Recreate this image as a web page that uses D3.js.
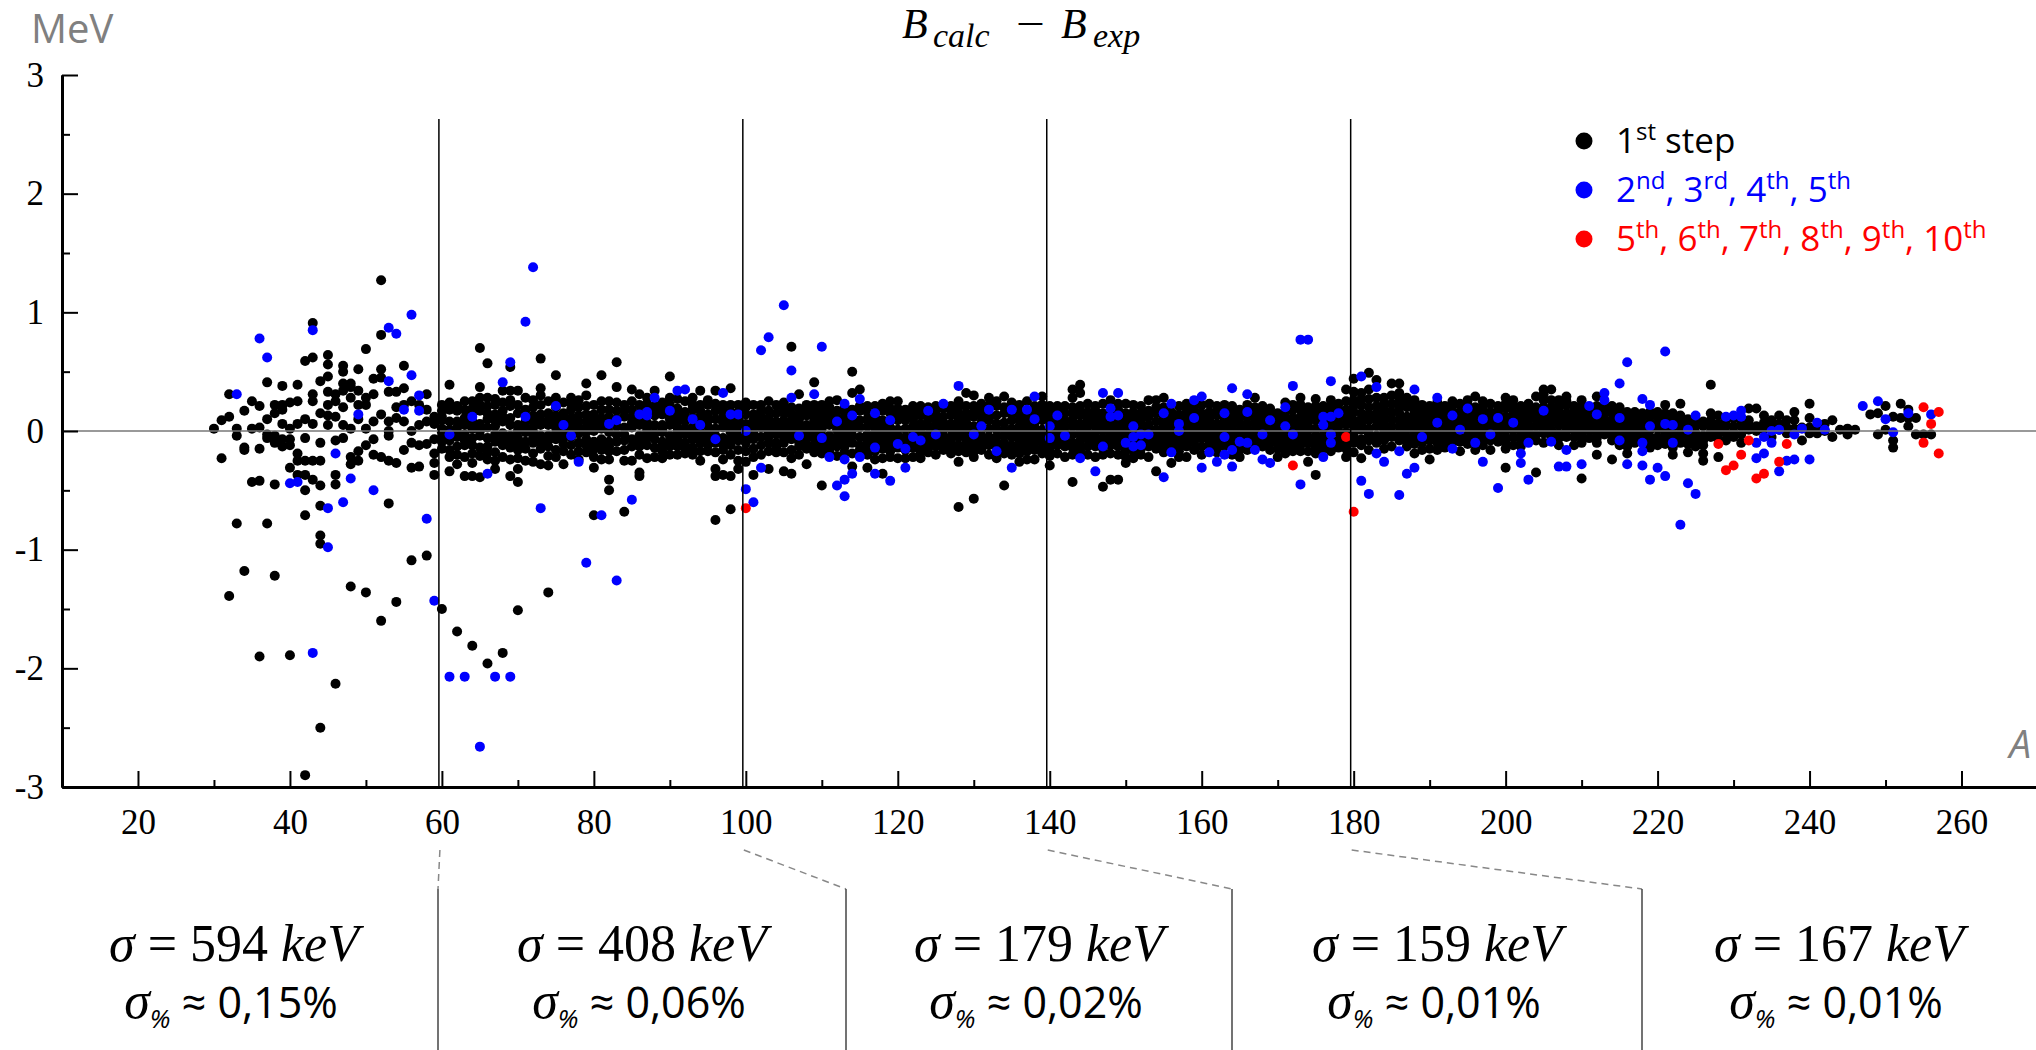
<!DOCTYPE html>
<html>
<head>
<meta charset="utf-8">
<script src="https://cdn.jsdelivr.net/npm/d3@7"></script>
<style>
  body { margin: 0; background: #fff; }
  .axis text { font-family: 'Liberation Serif', 'Times New Roman', serif; font-size: 35px; fill: #000; }
</style>
</head>
<body>
<svg id="chart" width="2036" height="1050"></svg>
<script>

// B_calc - B_exp (MeV) per mass number A, 1st step: [A, dev, dev, ...]
const firstStep = [
  [30, .02], [31, -.23, .09], [32, .31, .12, -1.39], [33, .02, -.04, -.78],
  [34, .17, -.14, -.16, -1.18], [35, .25, .02, -.43], [36, .21, .03, -.15, -.42, -1.9],
  [37, .41, .10, -.03, -.06, -.78], [38, .22, .15, -.04, -.10, -.45, -1.22],
  [39, .38, .22, .18, .06, -.07, -.13], [40, .24, .02, -.07, -.12, -.31, -1.89],
  [41, .39, .25, .06, -.19, -.25, -.37], [42, .59, .10, -.06, -.25, -.37, -.50, -.71, -2.9],
  [43, .91, .62, .31, .25, .06, -.25, -.41], [44, .42, .15, -.10, -.25, -.46, -.63, -.88, -.95, -2.5],
  [45, .64, .56, .46, .33, .22, .13, .05], [46, .31, .25, .12, -.08, -.37, -.45, -2.13],
  [47, .55, .50, .40, .34, .20, .05, -.06], [48, .40, .37, .28, .02, -.22, -.28, -1.31],
  [49, .52, .34, .22, .10, -.17, -.25], [50, .69, .28, .22, .02, -.12, -1.36],
  [51, .44, .31, .08, -.07, -.20], [52, 1.27, .81, .52, .45, .14, -.22, -1.6],
  [53, .33, .08, .0, -.04, -.25, -.61], [54, .33, .20, .11, -.27, -1.44],
  [55, .55, .36, .22, .08, -.16], [56, .25, .0, -.10, -.31, -1.09], [57, .22, .05, -.12, -.30],
  [58, .31, .18, .08, -.11, -1.05], [59, .12, .06, -.07, -.19, -.27, -.37],
  [60, .22, .17, .12, .09, .02, -.01, -.05, -.09, -.15, -1.5],
  [61, .39, .24, .18, .08, .01, -.04, -.08, -.16, -.22, -.34],
  [62, .21, .17, .08, .03, -.01, -.05, -.13, -.20, -.28, -1.69],
  [63, .25, .18, .11, .05, -.03, -.08, -.12, -.22, -.38],
  [64, .25, .19, .15, .08, .02, -.06, -.12, -.19, -.27, -.38, -1.81],
  [65, .70, .37, .28, .22, .17, .06, .0, -.04, -.14, -.21, -.39],
  [66, .57, .28, .21, .15, .10, .03, -.06, -.13, -.18, -.24, -1.96],
  [67, .27, .22, .14, .09, .04, -.03, -.09, -.18, -.25, -.32],
  [68, .34, .24, .17, .12, .08, -.02, -.07, -.12, -.22, -1.87],
  [69, .54, .34, .26, .21, .11, .05, -.04, -.10, -.14, -.24, -.38],
  [70, .34, .22, .15, .05, .0, -.06, -.11, -.16, -.23, -.32, -.43, -1.51],
  [71, .28, .18, .13, .08, .03, -.01, -.09, -.15, -.25],
  [72, .26, .20, .13, .08, .03, -.01, -.06, -.10, -.19, -.26],
  [73, .61, .36, .30, .22, .14, .09, .05, -.04, -.10, -.15, -.28],
  [74, .25, .15, .09, .05, -.04, -.08, -.13, -.21, -.29, -1.36],
  [75, .47, .28, .20, .13, .08, .03, -.02, -.07, -.16, -.22],
  [76, .24, .15, .10, .06, -.01, -.06, -.11, -.17, -.28],
  [77, .28, .23, .18, .11, .06, .02, -.05, -.12, -.20],
  [78, .26, .20, .13, .08, .03, -.02, -.10, -.17, -.24],
  [79, .40, .30, .21, .14, .08, .03, -.01, -.07, -.12, -.18],
  [80, .22, .14, .09, .05, .0, -.09, -.15, -.22, -.31, -.71],
  [81, .47, .25, .18, .11, .06, .02, -.07, -.11, -.16, -.24],
  [82, .25, .18, .12, .05, -.01, -.09, -.13, -.17, -.24, -.41, -.50],
  [83, .58, .37, .24, .17, .10, .04, -.03, -.09, -.17],
  [84, .22, .17, .12, .03, -.03, -.08, -.16, -.25, -.68],
  [85, .35, .25, .18, .12, .07, .03, -.07, -.13, -.25],
  [86, .31, .22, .15, .09, .05, -.04, -.09, -.13, -.20, -.35, -.38],
  [87, .28, .23, .19, .07, .02, -.01, -.06, -.12, -.23],
  [88, .34, .21, .17, .13, .05, -.02, -.07, -.14, -.22],
  [89, .24, .18, .14, .05, .01, -.01, -.09, -.13, -.17, -.23],
  [90, .46, .28, .22, .19, .10, .05, -.04, -.09, -.13, -.20],
  [91, .27, .19, .13, .08, .03, -.01, -.07, -.13, -.20],
  [92, .25, .16, .12, .08, .02, -.03, -.10, -.15, -.19],
  [93, .28, .22, .18, .11, .03, -.02, -.07, -.14, -.20],
  [94, .34, .22, .17, .12, .06, -.01, -.05, -.10, -.17, -.25],
  [95, .26, .22, .14, .09, .04, -.02, -.07, -.12, -.17],
  [96, .34, .23, .17, .10, .02, -.04, -.10, -.18, -.32, -.38, -.75],
  [97, .22, .17, .12, .07, .03, -.06, -.11, -.16, -.24, -.37],
  [98, .36, .22, .16, .08, .03, -.01, -.07, -.12, -.20, -.38, -.66],
  [99, .22, .16, .10, .06, .02, -.04, -.08, -.16, -.25, -.32],
  [100, .24, .20, .14, .06, .01, -.05, -.10, -.17, -.26],
  [101, .22, .14, .09, .04, -.02, -.07, -.15, -.22, -.37],
  [102, .22, .17, .12, .07, .03, -.05, -.12, -.20],
  [103, .25, .17, .11, .07, .02, -.01, -.05, -.10, -.17, -.32],
  [104, .22, .15, .08, .03, -.03, -.10, -.14, -.18],
  [105, .24, .19, .15, .09, .05, -.01, -.05, -.10, -.18, -.34],
  [106, .71, .20, .14, .08, .03, -.02, -.07, -.16, -.23, -.36],
  [107, .31, .19, .14, .10, .06, .01, -.04, -.09, -.13, -.20],
  [108, .22, .17, .13, .05, .0, -.06, -.11, -.15, -.28],
  [109, .41, .22, .18, .14, .09, .04, -.01, -.06, -.12, -.18],
  [110, .22, .16, .11, .06, .02, -.04, -.10, -.14, -.19, -.46],
  [111, .25, .20, .15, .10, .05, -.04, -.10, -.14, -.18],
  [112, .26, .17, .11, .06, .01, -.05, -.09, -.13, -.21],
  [113, .20, .16, .12, .08, .04, -.02, -.07, -.13, -.18],
  [114, .50, .32, .18, .11, .06, .01, -.04, -.10, -.19, -.30],
  [115, .35, .21, .17, .09, .03, -.05, -.12, -.16],
  [116, .21, .16, .10, .04, -.03, -.07, -.10, -.15, -.20, -.31],
  [117, .21, .12, .08, .03, -.02, -.06, -.10, -.17, -.24],
  [118, .23, .17, .09, .05, .01, -.05, -.10, -.15, -.23, -.36],
  [119, .25, .19, .15, .09, .03, -.02, -.07, -.12, -.17, -.22],
  [120, .25, .19, .14, .09, .01, -.04, -.08, -.14, -.23],
  [121, .18, .13, .09, .02, -.05, -.10, -.16, -.23],
  [122, .21, .15, .10, .04, .0, -.04, -.08, -.14, -.22],
  [123, .21, .17, .13, .06, .02, -.02, -.08, -.13, -.18, -.23],
  [124, .20, .14, .10, .04, -.03, -.07, -.10, -.14, -.18],
  [125, .21, .15, .09, .05, .01, -.03, -.07, -.13, -.20],
  [126, .19, .12, .07, .01, -.04, -.10, -.16],
  [127, .21, .17, .13, .06, .02, -.05, -.09, -.13, -.19],
  [128, .25, .20, .15, .09, .03, -.01, -.05, -.12, -.17, -.26, -.64],
  [129, .32, .21, .15, .11, .07, .01, -.05, -.10, -.14, -.18],
  [130, .30, .21, .16, .12, .04, -.01, -.07, -.13, -.17, -.22, -.57],
  [131, .23, .18, .12, .07, .01, -.04, -.08, -.12, -.16],
  [132, .28, .21, .14, .09, .02, -.05, -.09, -.12, -.20],
  [133, .25, .21, .13, .06, .01, -.05, -.10, -.14, -.23],
  [134, .29, .20, .15, .07, .01, -.04, -.10, -.14, -.19, -.46],
  [135, .24, .14, .09, .02, -.02, -.05, -.12, -.16, -.20],
  [136, .22, .15, .09, .04, -.02, -.06, -.10, -.14, -.19, -.26],
  [137, .25, .13, .10, .06, .01, -.04, -.08, -.12, -.17, -.24],
  [138, .21, .15, .07, .03, -.01, -.05, -.10, -.16, -.24],
  [139, .29, .22, .17, .13, .09, .01, -.05, -.10, -.15, -.19],
  [140, .21, .16, .12, .07, .02, -.03, -.09, -.12, -.16, -.21, -.29],
  [141, .21, .17, .08, .04, .01, -.04, -.08, -.12, -.19],
  [142, .21, .15, .09, .04, -.01, -.06, -.09, -.13, -.22],
  [143, .35, .28, .20, .15, .09, .04, -.03, -.10, -.14, -.20, -.43],
  [144, .39, .32, .21, .17, .13, .06, .01, -.03, -.08, -.12, -.17],
  [145, .23, .16, .13, .09, .04, -.02, -.07, -.13, -.20],
  [146, .21, .17, .12, .08, .04, -.01, -.05, -.09, -.13, -.22],
  [147, .23, .15, .10, .05, .01, -.06, -.10, -.15, -.20, -.47],
  [148, .26, .15, .08, .04, -.02, -.08, -.12, -.19, -.41],
  [149, .23, .18, .08, .04, .01, -.03, -.07, -.13, -.20, -.41],
  [150, .23, .15, .10, .06, .01, -.04, -.09, -.16, -.22, -.27],
  [151, .22, .16, .12, .07, .01, -.09, -.17, -.23],
  [152, .21, .15, .09, .03, -.06, -.09, -.15, -.20],
  [153, .26, .17, .12, .05, .01, -.07, -.10, -.13, -.22],
  [154, .26, .20, .15, .08, .01, -.03, -.07, -.11, -.15, -.34],
  [155, .28, .20, .12, .08, .04, -.02, -.06, -.10, -.14, -.18],
  [156, .16, .13, .09, .05, .01, -.05, -.09, -.12, -.16, -.27],
  [157, .21, .14, .10, .03, -.03, -.06, -.10, -.13, -.17, -.22],
  [158, .23, .19, .15, .09, .05, .01, -.04, -.08, -.13, -.22],
  [159, .22, .18, .14, .05, .01, -.02, -.06, -.09, -.16],
  [160, .22, .15, .11, .07, .01, -.03, -.06, -.13, -.20],
  [161, .23, .16, .12, .09, .03, -.01, -.05, -.09, -.12],
  [162, .21, .17, .13, .06, .02, -.03, -.07, -.10, -.14, -.18],
  [163, .22, .17, .12, .09, .04, .01, -.09, -.13],
  [164, .21, .16, .12, .08, .04, -.01, -.05, -.08, -.11, -.20],
  [165, .18, .15, .11, .06, .0, -.04, -.07, -.12, -.16, -.22],
  [166, .22, .12, .06, .02, -.03, -.06, -.13, -.16],
  [167, .28, .20, .15, .11, .07, .01, -.05, -.09, -.12],
  [168, .21, .17, .13, .09, .05, .02, -.06, -.10, -.13],
  [169, .19, .15, .12, .05, .02, -.02, -.06, -.10, -.16],
  [170, .15, .11, .08, .04, -.01, -.04, -.08, -.11, -.15, -.22],
  [171, .24, .16, .12, .08, .01, -.05, -.09, -.13, -.19],
  [172, .22, .18, .11, .06, .01, -.06, -.09, -.13, -.17],
  [173, .28, .22, .18, .12, .07, .03, -.03, -.08, -.12, -.17],
  [174, .20, .15, .12, .08, .04, .01, -.05, -.10, -.17, -.26],
  [175, .27, .21, .17, .13, .09, .02, -.04, -.09, -.13, -.19, -.37],
  [176, .21, .18, .14, .09, .01, -.04, -.08, -.11, -.15],
  [177, .26, .21, .16, .08, .02, -.06, -.13, -.17],
  [178, .23, .18, .11, .07, .04, -.01, -.08, -.14],
  [179, .35, .25, .18, .12, .06, -.01, -.06, -.10, -.15, -.22],
  [180, .44, .33, .26, .21, .16, .09, .04, -.02, -.06, -.10, -.18],
  [181, .32, .27, .22, .15, .10, .05, .01, -.07, -.12, -.23],
  [182, .49, .35, .27, .20, .14, .09, .02, -.03, -.08, -.16],
  [183, .43, .28, .21, .15, .10, .04, -.04, -.10],
  [184, .28, .23, .19, .14, .09, .05, .01, -.03, -.08, -.15],
  [185, .40, .30, .23, .16, .10, .04, -.01, -.05, -.13],
  [186, .40, .32, .26, .20, .15, .09, .04, -.02, -.08],
  [187, .28, .24, .20, .12, .07, .02, -.05, -.09, -.13],
  [188, .26, .21, .16, .11, .06, .01, -.03, -.07, -.11, -.19],
  [189, .22, .18, .15, .09, .04, .0, -.03, -.10, -.16],
  [190, .21, .17, .13, .09, .06, .01, -.04, -.08, -.15, -.24],
  [191, .24, .20, .15, .10, .03, -.01, -.05, -.10, -.16],
  [192, .21, .16, .12, .08, .04, -.02, -.08, -.14],
  [193, .25, .21, .16, .13, .09, .05, .01, -.02, -.06, -.10],
  [194, .23, .16, .12, .09, .05, .02, -.05, -.09, -.17],
  [195, .26, .22, .15, .09, .04, .0, -.05, -.11],
  [196, .29, .20, .16, .12, .08, .04, -.01, -.05, -.10, -.16],
  [197, .25, .21, .17, .14, .07, .03, -.03, -.08, -.12],
  [198, .23, .16, .12, .09, .06, .02, -.03, -.08, -.16],
  [199, .21, .16, .12, .08, .05, .01, -.02, -.06, -.09],
  [200, .28, .23, .19, .12, .08, .04, .0, -.06, -.10, -.15, -.31],
  [201, .26, .21, .15, .09, .05, .01, -.05, -.12],
  [202, .21, .17, .13, .08, .04, .0, -.04, -.08, -.13],
  [203, .23, .20, .16, .12, .09, .05, .01, -.03, -.06],
  [204, .29, .20, .15, .10, .04, -.03, -.08, -.35],
  [205, .35, .31, .26, .20, .15, .11, .06, .02, -.02, -.10],
  [206, .35, .26, .20, .16, .12, .07, .01, -.05],
  [207, .26, .22, .19, .15, .12, .08, .05, -.02, -.06, -.12],
  [208, .29, .25, .22, .15, .10, .04, .0, -.05],
  [209, .21, .18, .15, .11, .09, .05, .01, -.05, -.12],
  [210, .26, .21, .17, .13, .09, .04, -.02, -.06, -.10, -.40],
  [211, .20, .16, .12, .08, .04, .01, -.06],
  [212, .29, .21, .15, .08, .04, -.02, -.06, -.10, -.20],
  [213, .21, .18, .15, .10, .04, .0, -.03],
  [214, .21, .15, .09, .05, .01, -.03, -.08, -.24],
  [215, .20, .17, .10, .04, -.02, -.06, -.12],
  [216, .16, .12, .06, .02, -.02, -.07, -.13, -.19],
  [217, .16, .12, .08, .04, .0, -.05, -.10],
  [218, .15, .12, .06, .02, -.03, -.07],
  [219, .16, .12, .07, .01, -.05, -.09, -.14],
  [220, .16, .12, .06, .02, -.05, -.09, -.12],
  [221, .22, .15, .11, .03, -.01, -.05, -.11],
  [222, .15, .09, .03, -.03, -.08, -.14, -.20],
  [223, .23, .13, .08, .04, -.02, -.06, -.10],
  [224, .10, .06, .02, -.05, -.11, -.18],
  [225, .09, .04, -.02, -.05, -.08, -.13],
  [226, .08, .04, -.04, -.08, -.12, -.19, -.25],
  [227, .39, .15, .09, .04, -.01, -.05],
  [228, .13, .06, .02, -.02, -.07, -.22],
  [229, .09, .04, -.02, -.08], [230, .11, .04, -.01, -.05], [231, .08, .04, -.03, -.10],
  [232, .19, .09, .05, .01], [233, .19, .04, .0], [234, .13, .07, .02], [235, .09, .03, -.05],
  [236, .13, .06, .01], [237, .09, .03, -.02], [238, .16, .09, .02], [239, .03, -.08],
  [240, .23, .11, .03, -.02], [241, .03, -.02], [242, .06, .0], [243, .09, -.05],
  [244, .01], [245, .02, -.03], [246, .01], [248, .14], [249, .15, -.03], [250, .21, .01],
  [251, .12, -.08, -.14], [252, .23, .11], [253, .18, .11, .04], [254, .11, -.03],
  [255, -.03], [256, -.03]
];

// 2nd-5th steps: [A, dev]
const steps2to5 = [
  [33, .31], [36, .78], [37, .62], [40, -.44], [41, -.43], [43, .85], [43, -1.87], [45, -.65],
  [45, -.98], [46, -.19], [47, -.6], [48, -.4], [49, .14], [51, -.5], [53, .87], [53, .42],
  [54, .82], [55, .18], [56, .98], [56, .47], [57, .3], [57, .17], [58, -.74], [59, -1.43],
  [61, -.03], [61, -2.07], [63, -2.07], [64, .12], [65, -2.66], [66, -.36], [67, -2.07],
  [68, .41], [69, .58], [69, -2.07], [71, .92], [71, .12], [72, 1.38], [73, -.65], [75, .21],
  [76, .05], [77, -.04], [78, -.26], [79, -1.11], [81, -.71], [82, .06], [83, .09], [83, -1.26],
  [85, -.58], [86, .14], [87, .16], [87, .13], [88, .28], [90, .17], [91, .34], [92, .35],
  [93, .1], [94, .05], [96, -.07], [97, .32], [98, .14], [99, .14], [100, 0], [100, -.49],
  [101, -.6], [102, .68], [102, -.31], [103, .79], [105, 1.06], [106, .51], [106, .28],
  [107, -.04], [109, .31], [110, .71], [110, -.06], [111, -.22], [112, .08], [112, -.46],
  [113, .23], [113, -.24], [113, -.41], [113, -.55], [114, .13], [114, -.36], [115, .27],
  [115, -.22], [117, .15], [117, -.14], [117, -.36], [119, .09], [119, -.42], [120, -.11],
  [121, -.15], [121, -.31], [122, -.05], [123, -.08], [124, .17], [125, -.03], [126, .23],
  [128, .38], [130, -.03], [131, .04], [132, .18], [133, -.17], [135, .18], [135, -.31],
  [137, .18], [138, .29], [138, .1], [140, .04], [140, -.06], [141, .13], [142, -.04],
  [144, -.23], [146, -.34], [147, .32], [147, -.13], [148, .19], [148, .12], [149, .32],
  [149, .13], [150, -.1], [151, .04], [151, -.05], [151, -.13], [152, -.03], [152, -.12],
  [153, -.03], [155, .15], [155, -.39], [156, .23], [156, -.18], [157, .06], [157, 0],
  [159, .26], [159, .11], [160, .29], [160, -.31], [161, -.18], [162, -.26], [163, .15],
  [163, -.05], [163, -.2], [164, .36], [164, -.16], [164, -.3], [165, -.09], [166, .31],
  [166, .16], [166, -.1], [167, -.16], [168, -.03], [168, -.24], [169, .09], [169, -.27],
  [171, .2], [171, .04], [172, .38], [172, -.03], [173, .77], [173, -.45], [174, .77],
  [176, .12], [176, .05], [176, -.22], [177, .42], [177, .12], [177, -.03], [177, -.1],
  [178, .15], [181, .46], [181, -.42], [182, -.53], [183, .37], [183, -.19], [184, -.26],
  [186, -.17], [186, -.54], [187, -.36], [188, .35], [188, -.31], [189, -.05], [191, .28],
  [191, .07], [193, .13], [193, -.15], [194, .01], [195, .19], [196, -.1], [197, .1],
  [197, -.26], [198, -.03], [199, .11], [199, -.48], [201, .07], [202, -.19], [202, -.27],
  [203, -.1], [203, -.41], [205, .17], [206, -.09], [207, -.3], [208, -.16], [208, -.3],
  [210, -.28], [211, .21], [212, .14], [213, .32], [213, .26], [215, .4], [215, .11],
  [215, -.08], [216, .58], [216, -.28], [218, .27], [218, -.1], [218, -.17], [218, -.29],
  [219, .22], [219, .04], [219, -.41], [220, -.31], [221, .67], [221, .06], [221, -.38],
  [222, .05], [222, -.1], [223, -.79], [224, .01], [224, -.44], [225, .13], [225, -.53],
  [229, .12], [230, .13], [231, .17], [231, .12], [233, -.1], [233, -.23], [234, -.05],
  [234, -.19], [235, 0], [235, -.1], [236, .01], [236, -.34], [237, -.25], [238, -.03],
  [238, -.24], [239, .02], [240, -.24], [241, .07], [242, .01], [247, .21], [249, .25],
  [250, .1], [251, -.01], [253, .15], [256, .14]
];

// 5th-10th steps: [A, dev]
const steps5to10 = [
  [100, -.65], [172, -.29], [179, -.05], [180, -.68], [228, -.11], [229, -.33], [230, -.29],
  [231, -.2], [232, -.08], [233, -.4], [234, -.36], [236, -.26], [237, -.11], [255, .2],
  [255, -.1], [256, .06], [257, .16], [257, -.19]
];

const xTicks      = d3.range(20, 261, 20);
const xMinorTicks = d3.range(30, 260, 20);
const yTicks      = [-3, -2, -1, 0, 1, 2, 3];
const yMinorTicks = [-2.5, -1.5, -0.5, 0.5, 1.5, 2.5];

// region borders (A) and the sigma of each region
const borders  = [60, 100, 140, 180];
const sigmaKeV = ["594", "408", "179", "159", "167"];
const sigmaPct = ["0,15", "0,06", "0,02", "0,01", "0,01"];

const legendItems = [
  { color: "#000000", parts: [["1"], ["st", "sup"], [" step"]] },
  { color: "#0000ff", parts: [["2"], ["nd", "sup"], [", 3"], ["rd", "sup"], [", 4"], ["th", "sup"], [", 5"], ["th", "sup"]] },
  { color: "#ff0000", parts: [["5"], ["th", "sup"], [", 6"], ["th", "sup"], [", 7"], ["th", "sup"], [", 8"], ["th", "sup"],
                              [", 9"], ["th", "sup"], [", 10"], ["th", "sup"]] }
];


const W = 2036, H = 1050;
const serif = "'Liberation Serif', 'Times New Roman', serif";
const sans  = "'Open Sans', 'Noto Sans', sans-serif";

const x = d3.scaleLinear().domain([10, 270]).range([62, 2037.5]);
const y = d3.scaleLinear().domain([-3, 3]).range([787, 75]);

const svg = d3.select("#chart");
svg.append("rect").attr("width", W).attr("height", H).attr("fill", "#fff");

// parts: [text, "sup"|"sub"|undefined, italic, fontFamily, fontSize]
function rich(textSel, parts, small, shift) {
  let off = 0;
  parts.forEach(([t, kind, ital, fam, size]) => {
    const target = kind === "sup" ? -shift : kind === "sub" ? shift : 0;
    const ts = textSel.append("tspan").attr("dy", target - off).text(t);
    if (kind) ts.style("font-size", small + "px");
    if (size) ts.style("font-size", size + "px");
    if (ital) ts.style("font-style", "italic");
    if (fam) ts.style("font-family", fam);
    off = target;
  });
}

// points
const blackPts = firstStep.flatMap(([a, ...vs]) => vs.map(v => [a, v]));
const groups = [
  { pts: blackPts,   color: "#000000" },
  { pts: steps2to5,  color: "#0000ff" },
  { pts: steps5to10, color: "#ff0000" }
];
groups.forEach(g => {
  svg.append("g")
    .selectAll("circle")
    .data(g.pts)
    .join("circle")
    .attr("cx", d => x(d[0]))
    .attr("cy", d => y(d[1]))
    .attr("r", 5)
    .attr("fill", g.color);
});

// zero line and region separators (drawn over the points)
svg.append("line")
  .attr("x1", x(10)).attr("x2", W)
  .attr("y1", y(0)).attr("y2", y(0))
  .attr("stroke", "#777").attr("stroke-width", 1.4);

svg.selectAll("line.sep")
  .data(borders)
  .join("line")
  .attr("class", "sep")
  .attr("x1", d => x(d) - 3).attr("x2", d => x(d) - 3)
  .attr("y1", 119).attr("y2", y(-3))
  .attr("stroke", "#000").attr("stroke-width", 1.5);

// axes
function axisGroup(tr) {
  return svg.append("g").attr("class", "axis").attr("transform", tr);
}
axisGroup(`translate(0,${y(-3)})`)
  .call(d3.axisBottom(x).tickValues(xMinorTicks).tickSize(-7).tickSizeOuter(0).tickFormat(""));
axisGroup(`translate(0,${y(-3)})`)
  .call(d3.axisBottom(x).tickValues(xTicks).tickSize(-16).tickSizeOuter(0)
    .tickPadding(22).tickFormat(d3.format("d")));

axisGroup(`translate(${x(10)},0)`)
  .call(d3.axisLeft(y).tickValues(yMinorTicks).tickSize(-8).tickSizeOuter(0).tickFormat(""));
axisGroup(`translate(${x(10)},0)`)
  .call(d3.axisLeft(y).tickValues(yTicks).tickSize(-16).tickSizeOuter(0)
    .tickPadding(18).tickFormat(d => String(d)));

svg.selectAll(".axis")
  .attr("font-family", serif).attr("font-size", 35);
svg.selectAll(".axis .domain").attr("stroke", "#000").attr("stroke-width", 3);
svg.selectAll(".axis .tick line").attr("stroke", "#000").attr("stroke-width", 2);
svg.selectAll(".axis .tick text")
  .attr("font-family", serif).attr("font-size", 35)
  .style("font-family", serif).style("font-size", "35px").attr("fill", "#000");

// unit labels
svg.append("text")
  .attr("x", 31).attr("y", 43)
  .style("font-family", sans).style("font-size", "40px").attr("fill", "#808080")
  .text("MeV");

svg.append("text")
  .attr("x", 2031).attr("y", 758).attr("text-anchor", "end")
  .style("font-family", sans).style("font-size", "39px").style("font-style", "italic")
  .attr("fill", "#808080")
  .text("A");

// title  B_calc - B_exp
const title = svg.append("text")
  .attr("y", 38)
  .style("font-family", serif).style("font-size", "42px").style("font-style", "italic")
  .attr("fill", "#000");
title.append("tspan").attr("x", 902).text("B");
title.append("tspan").attr("x", 933).attr("dy", 9).style("font-size", "34px").text("calc");
title.append("tspan").attr("x", 1061).attr("dy", -9).text("B");
title.append("tspan").attr("x", 1093).attr("dy", 9).style("font-size", "34px").text("exp");

// the minus sign, widened like the math font's
svg.append("text")
  .attr("transform", "translate(1016,38) scale(1.22,1)")
  .style("font-family", serif).style("font-size", "42px").attr("fill", "#000")
  .text("\u2212");

// legend
const leg = svg.append("g");
legendItems.forEach((item, i) => {
  const cy = 141 + i * 49;
  leg.append("circle").attr("cx", 1584).attr("cy", cy).attr("r", 8.5).attr("fill", item.color);
  const t = leg.append("text")
    .attr("x", 1616).attr("y", cy + 12)
    .style("font-family", sans).style("font-size", "35px").attr("fill", item.color);
  rich(t, item.parts, 24, 13);
});

// bottom panel: connectors from region borders to column dividers
const dividers = [438, 846, 1232, 1642];
const colEdges = [30, ...dividers, W];

svg.selectAll("line.conn")
  .data(borders)
  .join("line")
  .attr("class", "conn")
  .attr("x1", d => x(d) - 2).attr("y1", 850)
  .attr("x2", (d, i) => dividers[i]).attr("y2", 889)
  .attr("stroke", "#888").attr("stroke-width", 1.5).attr("stroke-dasharray", "7,5");

svg.selectAll("line.div")
  .data(dividers)
  .join("line")
  .attr("class", "div")
  .attr("x1", d => d).attr("x2", d => d)
  .attr("y1", 889).attr("y2", H)
  .attr("stroke", "#444").attr("stroke-width", 1.5);

sigmaKeV.forEach((s, i) => {
  const cx = (colEdges[i] + colEdges[i + 1]) / 2;
  const t1 = svg.append("text")
    .attr("x", cx).attr("y", 961).attr("text-anchor", "middle")
    .style("font-family", serif).style("font-size", "52px").attr("fill", "#000");
  rich(t1, [["\u03c3", null, true], [" = " + s + " "], ["keV", null, true]], 30, 10);

  const t2 = svg.append("text")
    .attr("x", cx - 3).attr("y", 1018).attr("text-anchor", "middle")
    .style("font-family", serif).style("font-size", "52px").attr("fill", "#000");
  rich(t2, [["\u03c3", null, true], ["%", "sub", true, sans], [" \u2248 " + sigmaPct[i] + "%", null, false, sans, 43]], 26, 10);
});

</script>
</body>
</html>
